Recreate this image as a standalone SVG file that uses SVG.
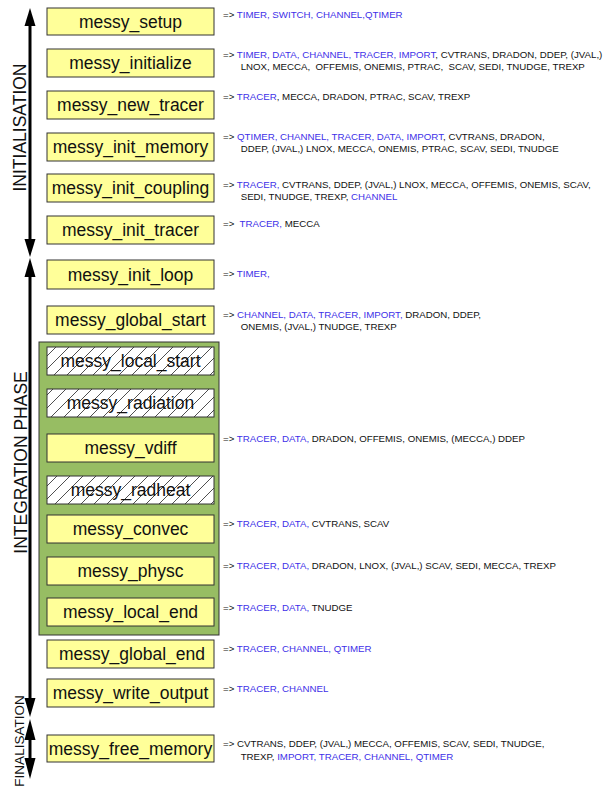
<svg xmlns="http://www.w3.org/2000/svg" width="609" height="788" viewBox="0 0 609 788">
<style>
.box{fill:#FFFF99;stroke:#333;stroke-width:1}
.hbox{fill:url(#hatch);stroke:#333;stroke-width:1}
.lbl{font-family:"Liberation Sans",Arial,sans-serif;font-size:17.5px;text-anchor:middle;fill:#111}
.note{font-family:"Liberation Sans",Arial,sans-serif;font-size:9.7px;fill:#111;white-space:pre}
.b{fill:#4030E8}
.phase{font-family:"Liberation Sans",Arial,sans-serif;font-size:17.5px;text-anchor:middle;fill:#111}
.axis{stroke:#000;stroke-width:3;fill:none}
.head{fill:#000}
</style>
<defs>
<pattern id="hatch" patternUnits="userSpaceOnUse" width="13" height="13">
<rect width="13" height="13" fill="#fff"/>
<path d="M-1,14 L14,-1 M-1,1 L1,-1 M12,14 L14,12" stroke="#222" stroke-width="0.8"/>
</pattern>
</defs>
<rect width="609" height="788" fill="#fff"/>

<g id="integration-block">
<rect x="39" y="342" width="180" height="293" fill="#97BD63" stroke="#333" stroke-width="1"/>
</g>

<g id="phase-arrows">
<line class="axis" x1="30" y1="24" x2="30" y2="241"/>
<polygon class="head" points="30,8 24.5,26 35.5,26"/>
<polygon class="head" points="30,257 24.5,239 35.5,239"/>
<line class="axis" x1="30" y1="275" x2="30" y2="700"/>
<polygon class="head" points="30,258 24.5,277 35.5,277"/>
<polygon class="head" points="30,717 24.5,698 35.5,698"/>
<line class="axis" x1="30" y1="738" x2="30" y2="760"/>
<polygon class="head" points="30,719 24.5,740 35.5,740"/>
<polygon class="head" points="30,779 24.5,758 35.5,758"/>
<text class="phase" transform="translate(25.7,127.5) rotate(-90)">INITIALISATION</text>
<text class="phase" transform="translate(26.5,462.5) rotate(-90)">INTEGRATION PHASE</text>
<text class="phase" style="font-size:13.5px" transform="translate(24,741) rotate(-90)">FINALISATION</text>
</g>

<g id="messy_setup">
<rect class="box" x="47" y="8" width="167" height="27"/>
<text class="lbl" x="130.5" y="27.5">messy_setup</text>
<text class="note" x="223" y="18.3">=&gt; <tspan class="b">TIMER, SWITCH, CHANNEL,QTIMER</tspan></text>
</g>

<g id="messy_initialize">
<rect class="box" x="47" y="49" width="167" height="28"/>
<text class="lbl" x="130.5" y="69">messy_initialize</text>
<text class="note" x="223" y="57.7">=&gt; <tspan class="b">TIMER, DATA, CHANNEL, TRACER, IMPORT</tspan>, CVTRANS, DRADON, DDEP, (JVAL,)</text>
<text class="note" x="240.7" y="70">LNOX, MECCA,  OFFEMIS, ONEMIS, PTRAC,  SCAV, SEDI, TNUDGE, TREXP</text>
</g>

<g id="messy_new_tracer">
<rect class="box" x="47" y="91" width="167" height="28"/>
<text class="lbl" x="130.5" y="111">messy_new_tracer</text>
<text class="note" x="223" y="100">=&gt; <tspan class="b">TRACER</tspan>, MECCA, DRADON, PTRAC, SCAV, TREXP</text>
</g>

<g id="messy_init_memory">
<rect class="box" x="47" y="133" width="167" height="28"/>
<text class="lbl" x="130.5" y="153">messy_init_memory</text>
<text class="note" x="223" y="139.5">=&gt; <tspan class="b">QTIMER, CHANNEL, TRACER, DATA, IMPORT</tspan>, CVTRANS, DRADON,</text>
<text class="note" x="240.7" y="151.8">DDEP, (JVAL,) LNOX, MECCA, ONEMIS, PTRAC, SCAV, SEDI, TNUDGE</text>
</g>

<g id="messy_init_coupling">
<rect class="box" x="47" y="174" width="167" height="28"/>
<text class="lbl" x="130.5" y="194">messy_init_coupling</text>
<text class="note" x="223" y="187.5">=&gt; <tspan class="b">TRACER,</tspan> CVTRANS, DDEP, (JVAL,) LNOX, MECCA, OFFEMIS, ONEMIS, SCAV,</text>
<text class="note" x="240.7" y="199.5">SEDI, TNUDGE, TREXP, <tspan class="b">CHANNEL</tspan></text>
</g>

<g id="messy_init_tracer">
<rect class="box" x="47" y="216" width="167" height="28"/>
<text class="lbl" x="130.5" y="236">messy_init_tracer</text>
<text class="note" x="223" y="226.8">=&gt;  <tspan class="b">TRACER,</tspan> MECCA</text>
</g>

<g id="messy_init_loop">
<rect class="box" x="47" y="260" width="167" height="29"/>
<text class="lbl" x="130.5" y="280.5">messy_init_loop</text>
<text class="note" x="223" y="276.8">=&gt; <tspan class="b">TIMER,</tspan></text>
</g>

<g id="messy_global_start">
<rect class="box" x="47" y="306" width="167" height="28"/>
<text class="lbl" x="130.5" y="326">messy_global_start</text>
<text class="note" x="223" y="318.3">=&gt; <tspan class="b">CHANNEL, DATA, TRACER, IMPORT,</tspan> DRADON, DDEP,</text>
<text class="note" x="240.7" y="330">ONEMIS, (JVAL,) TNUDGE, TREXP</text>
</g>

<g id="messy_local_start">
<rect class="hbox" x="47" y="347" width="167" height="28"/>
<text class="lbl" x="130.5" y="367">messy_local_start</text>
</g>

<g id="messy_radiation">
<rect class="hbox" x="47" y="389" width="167" height="28"/>
<text class="lbl" x="130.5" y="409">messy_radiation</text>
</g>

<g id="messy_vdiff">
<rect class="box" x="47" y="434" width="167" height="28"/>
<text class="lbl" x="130.5" y="454">messy_vdiff</text>
<text class="note" x="223" y="442">=&gt; <tspan class="b">TRACER, DATA,</tspan> DRADON, OFFEMIS, ONEMIS, (MECCA,) DDEP</text>
</g>

<g id="messy_radheat">
<rect class="hbox" x="47" y="476" width="167" height="28"/>
<text class="lbl" x="130.5" y="496">messy_radheat</text>
</g>

<g id="messy_convec">
<rect class="box" x="47" y="515" width="167" height="28"/>
<text class="lbl" x="130.5" y="535">messy_convec</text>
<text class="note" x="223" y="527.3">=&gt; <tspan class="b">TRACER, DATA,</tspan> CVTRANS, SCAV</text>
</g>

<g id="messy_physc">
<rect class="box" x="47" y="557" width="167" height="28"/>
<text class="lbl" x="130.5" y="577">messy_physc</text>
<text class="note" x="223" y="569.3">=&gt; <tspan class="b">TRACER, DATA,</tspan> DRADON, LNOX, (JVAL,) SCAV, SEDI, MECCA, TREXP</text>
</g>

<g id="messy_local_end">
<rect class="box" x="47" y="598" width="167" height="28"/>
<text class="lbl" x="130.5" y="618">messy_local_end</text>
<text class="note" x="223" y="610.7">=&gt; <tspan class="b">TRACER, DATA,</tspan> TNUDGE</text>
</g>

<g id="messy_global_end">
<rect class="box" x="47" y="640" width="167" height="28"/>
<text class="lbl" x="132" y="660">messy_global_end</text>
<text class="note" x="223" y="652.3">=&gt; <tspan class="b">TRACER, CHANNEL, QTIMER</tspan></text>
</g>

<g id="messy_write_output">
<rect class="box" x="47" y="679" width="167" height="28"/>
<text class="lbl" x="130.5" y="699">messy_write_output</text>
<text class="note" x="223" y="691.7">=&gt; <tspan class="b">TRACER, CHANNEL</tspan></text>
</g>

<g id="messy_free_memory">
<rect class="box" x="47" y="735" width="167" height="27"/>
<text class="lbl" x="130.5" y="754.5">messy_free_memory</text>
<text class="note" x="223" y="747.3">=&gt; CVTRANS, DDEP, (JVAL,) MECCA, OFFEMIS, SCAV, SEDI, TNUDGE,</text>
<text class="note" x="240.7" y="760">TREXP, <tspan class="b">IMPORT, TRACER, CHANNEL, QTIMER</tspan></text>
</g>
</svg>
